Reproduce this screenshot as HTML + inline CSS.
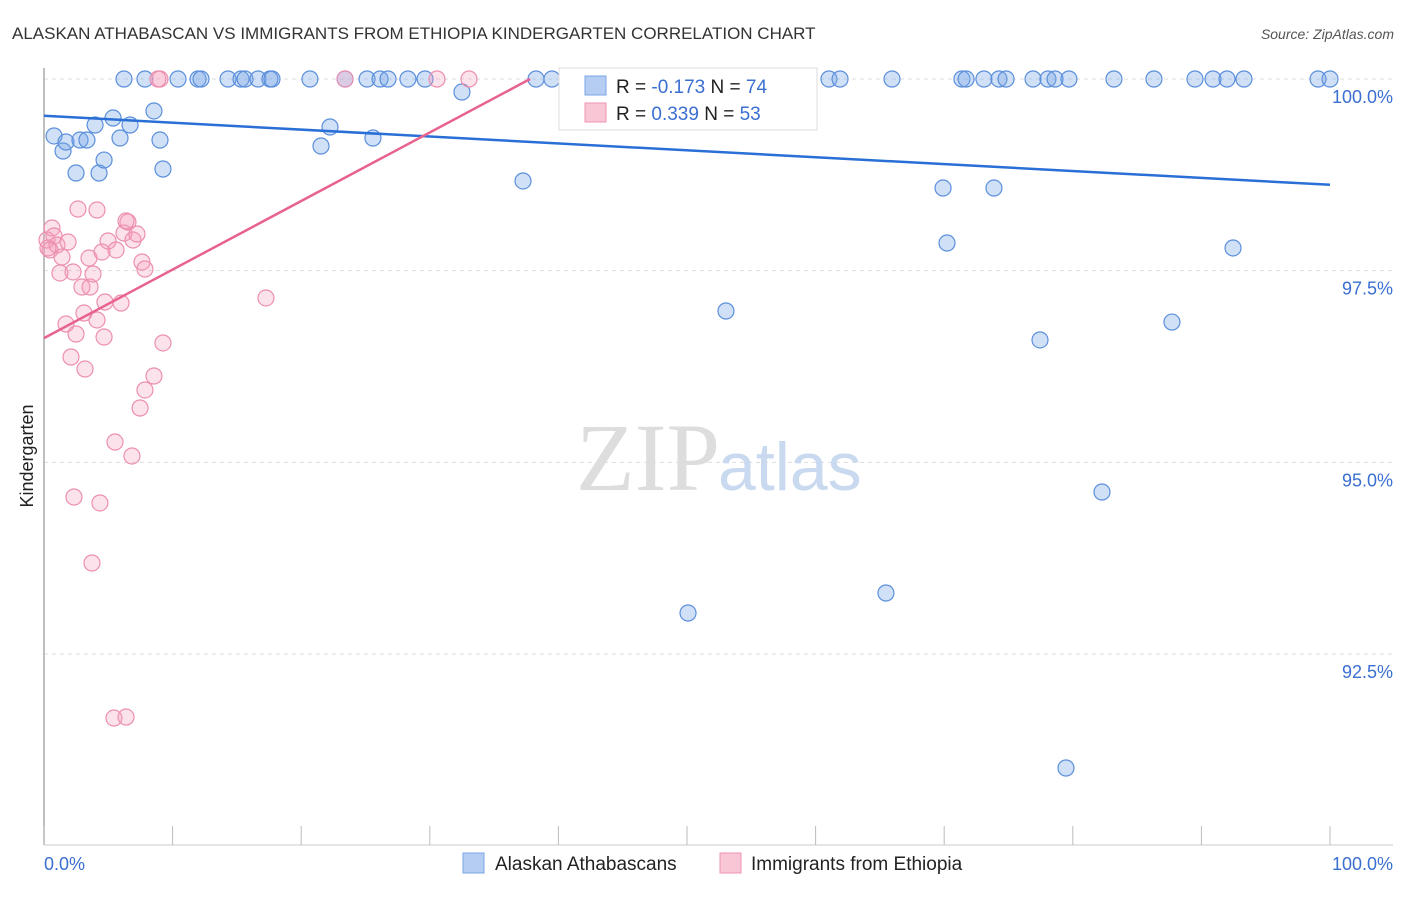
<!DOCTYPE html>
<html><head><meta charset="utf-8"><style>
body{margin:0;background:#fff;font-family:"Liberation Sans",sans-serif}
svg text{font-family:"Liberation Sans",sans-serif}
</style></head><body>
<svg width="1406" height="892" xmlns="http://www.w3.org/2000/svg">
<text x="12" y="39" font-size="17" fill="#333">ALASKAN ATHABASCAN VS IMMIGRANTS FROM ETHIOPIA KINDERGARTEN CORRELATION CHART</text>
<text x="1394" y="39" font-size="14" fill="#555" font-style="italic" text-anchor="end">Source: ZipAtlas.com</text>
<g id="grid"></g>
<text x="720" y="490" font-size="96" fill="#ddd" text-anchor="end" font-family="Liberation Serif" style="font-family:'Liberation Serif',serif">ZIP</text>
<text x="718" y="490" font-size="68" fill="#c9d9ef">atlas</text>
<line x1="44" y1="68" x2="44" y2="845" stroke="#aaa" stroke-width="1.5"/>
<line x1="44" y1="845" x2="1393" y2="845" stroke="#ccc" stroke-width="1"/>
<g id="ticks"></g>
<text x="44" y="870" font-size="18" fill="#3a6fd1">0.0%</text>
<text x="1393" y="870" font-size="18" fill="#3a6fd1" text-anchor="end">100.0%</text>
<text transform="translate(33,456) rotate(-90)" font-size="18" fill="#222" text-anchor="middle">Kindergarten</text>
<g id="pts"></g>
<g id="lines"></g>
<g>
<rect x="559" y="68" width="258" height="62" fill="#fff" stroke="#ddd"/>
<rect x="585" y="76" width="21" height="19" fill="#b5cdf2" stroke="#7aa5e6"/>
<rect x="585" y="103" width="21" height="19" fill="#f9c6d6" stroke="#ef94b3"/>
<text x="616" y="93" font-size="19" fill="#222">R = <tspan fill="#3a6fd1">-0.173</tspan>   N = <tspan fill="#3a6fd1">74</tspan></text>
<text x="616" y="120" font-size="19" fill="#222">R =  <tspan fill="#3a6fd1">0.339</tspan>   N = <tspan fill="#3a6fd1">53</tspan></text>
</g>
<g>
<rect x="463" y="853" width="21" height="20" fill="#b5cdf2" stroke="#7aa5e6"/>
<text x="495" y="870" font-size="19" fill="#222">Alaskan Athabascans</text>
<rect x="720" y="853" width="21" height="20" fill="#f9c6d6" stroke="#ef94b3"/>
<text x="751" y="870" font-size="19" fill="#222">Immigrants from Ethiopia</text>
</g>
</svg>
<script>
const yTicks=[100,97.5,95,92.5];
const yTickLabels=["100.0%","97.5%","95.0%","92.5%"];
const xTicks=[0,10,20,30,40,50,60,70,80,90,100];
const bluePx=[[124,79],[145,79],[178,79],[198,79],[201,79],[228,79],[241,79],[245,79],[258,79],[270,79],[272,79],[310,79],[345,79],[367,79],[380,79],[388,79],[408,79],[425,79],[536,79],[552,79],[575,79],[789,79],[829,79],[840,79],[892,79],[962,79],[966,79],[984,79],[999,79],[1006,79],[1033,79],[1048,79],[1055,79],[1069,79],[1114,79],[1154,79],[1195,79],[1213,79],[1227,79],[1244,79],[1318,79],[1330,79],[462,92],[54,136],[63,151],[66,142],[80,140],[87,140],[76,173],[99,173],[95,125],[104,160],[113,118],[120,138],[130,125],[154,111],[160,140],[163,169],[321,146],[330,127],[373,138],[523,181],[726,311],[943,188],[994,188],[947,243],[1233,248],[1040,340],[1172,322],[1102,492],[688,613],[886,593],[1066,768]];
const pinkPx=[[160,79],[158,79],[345,79],[437,79],[469,79],[47,240],[50,250],[52,228],[54,236],[57,245],[48,248],[60,273],[62,257],[68,242],[73,272],[78,209],[89,258],[97,210],[82,287],[90,287],[93,274],[66,324],[84,313],[97,320],[76,334],[104,337],[105,302],[121,303],[102,252],[108,241],[116,250],[124,233],[128,222],[126,221],[133,240],[137,234],[142,262],[145,269],[71,357],[85,369],[163,343],[154,376],[145,390],[140,408],[266,298],[115,442],[132,456],[74,497],[100,503],[92,563],[114,718],[126,717]];
// convert to data values (x %, y %)
const X0=44,X1=1330,Y100=79,PX_PER=191.67/2.5;
const xs=v=>X0+(X1-X0)*v/100, ys=v=>Y100+(100-v)*PX_PER;
const toData=p=>[+((p[0]-X0)/(X1-X0)*100).toFixed(2),+(100-(p[1]-Y100)/PX_PER).toFixed(3)];
const blueX=bluePx.map(p=>toData(p)[0]), blueY=bluePx.map(p=>toData(p)[1]);
const pinkX=pinkPx.map(p=>toData(p)[0]), pinkY=pinkPx.map(p=>toData(p)[1]);
const blueTrend=[[0,99.52],[100,98.62]];
const pinkTrend=[[0,96.62],[37.8,100]];
const NS="http://www.w3.org/2000/svg";
function mk(t,a,parent){const e=document.createElementNS(NS,t);for(const k in a)e.setAttribute(k,a[k]);parent.appendChild(e);return e;}
const grid=document.getElementById('grid');
yTicks.forEach((v,i)=>{
 const l=mk('line',{x1:44,x2:1393,y1:ys(v),y2:ys(v),stroke:'#ddd','stroke-dasharray':'4,4'},grid);
 
 
 const t=mk('text',{x:1393,y:ys(v)+24,'font-size':18,fill:'#3a6fd1','text-anchor':'end'},grid);
 t.textContent=yTickLabels[i];
 
 
});
const tk=document.getElementById('ticks');
xTicks.forEach(v=>{
 const l=mk('line',{x1:xs(v),x2:xs(v),y1:826,y2:845,stroke:'#bbb'},tk);
 
 
});
const pts=document.getElementById('pts');
blueX.forEach((x,i)=>{
 const c=mk('circle',{cx:xs(x),cy:ys(blueY[i]),r:8,fill:'rgba(120,165,230,0.35)',stroke:'#5b8fdc','stroke-width':1.2},pts);
 
 
});
pinkX.forEach((x,i)=>{
 const c=mk('circle',{cx:xs(x),cy:ys(pinkY[i]),r:8,fill:'rgba(245,160,190,0.3)',stroke:'#ec8fb0','stroke-width':1.2},pts);
 
 
});
const ln=document.getElementById('lines');
const b=mk('line',{x1:xs(blueTrend[0][0]),y1:ys(blueTrend[0][1]),x2:xs(blueTrend[1][0]),y2:ys(blueTrend[1][1]),stroke:'#2a6fd6','stroke-width':2.5},ln);


const p=mk('line',{x1:xs(pinkTrend[0][0]),y1:ys(pinkTrend[0][1]),x2:xs(pinkTrend[1][0]),y2:ys(pinkTrend[1][1]),stroke:'#e8628f','stroke-width':2.5},ln);


</script>
</body></html>
